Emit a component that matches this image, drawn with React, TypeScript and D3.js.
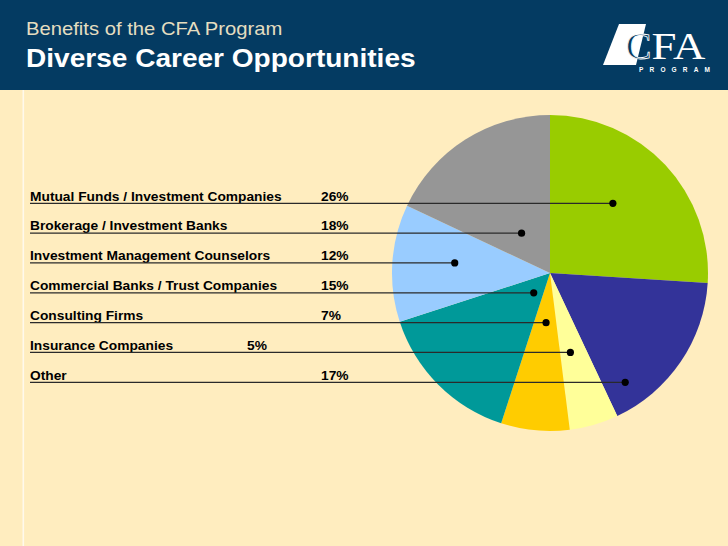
import React from "react";
import * as d3 from "d3";

const categories = [
  "Mutual Funds / Investment Companies",
  "Brokerage / Investment Banks",
  "Investment Management Counselors",
  "Commercial Banks / Trust Companies",
  "Consulting Firms",
  "Insurance Companies",
  "Other",
];
const values = [26, 18, 12, 15, 7, 5, 17];
const colors = ["#99CC00", "#969696", "#99CCFF", "#009999", "#FFCC00", "#FFFF99", "#333399"];
// clockwise order of slices from 12 o'clock (indices into categories)
const sliceOrder = [0, 6, 5, 4, 3, 2, 1];
// where each leader line ends, as horizontal offset from pie centre in units of radius
const leaderEnds = [0.398, -0.18, -0.603, -0.103, -0.025, 0.129, 0.476];
// label column for the percentage (0 = normal column, 1 = shifted left)
const pctShift = [0, 0, 0, 0, 0, 1, 0];

const W = 728;
const H = 546;
const HEADER = "#043B62";
const BG = "#FFEDBF";

function SText(props: { x: number; y: number; sx: number; children: React.ReactNode; [k: string]: any }) {
  const { x, y, sx, children, ...rest } = props;
  return (
    <text transform={`translate(${x},${y}) scale(${sx},1)`} {...rest}>
      {children}
    </text>
  );
}

export default function App() {
  const cx = 550;
  const cy = 273;
  const r = 158;

  const ordered = sliceOrder.map((i) => ({ i, v: values[i] }));
  const pie = d3
    .pie<{ i: number; v: number }>()
    .sort(null)
    .value((d) => d.v)
    .startAngle(0)
    .endAngle(2 * Math.PI);
  const arcs = pie(ordered);
  const arc = d3.arc<d3.PieArcDatum<{ i: number; v: number }>>().innerRadius(0).outerRadius(r);

  const rowY = d3.scaleLinear().domain([0, categories.length - 1]).range([203.3, 382.3]);
  const font = "'Liberation Sans', Arial, Helvetica, sans-serif";
  const serif = "'Liberation Serif', 'Times New Roman', serif";

  return (
    <svg width={W} height={H} style={{ position: "absolute", left: 0, top: 0 }} fontFamily={font}>
      <rect x={0} y={0} width={W} height={H} fill={BG} />
      <rect x={0} y={0} width={W} height={90} fill={HEADER} />
      <line x1={23.3} y1={90} x2={23.3} y2={H} stroke="#FFF9EC" strokeWidth={1.6} />
      <SText x={26} y={35} sx={1.125} fontSize={18} fill="#E4DEC0">Benefits of the CFA Program</SText>
      <SText x={26} y={67} sx={1.1} fontSize={25.5} fontWeight="bold" fill="#FFFFFF">Diverse Career Opportunities</SText>

      {/* CFA logo */}
      <g>
        <polygon points="619,24 646,24 636,65 603,65" fill="#FFFFFF" />
        <text x={626} y={58.5} fontFamily={serif} fontSize={38} fill={HEADER} stroke="#FFFFFF" strokeWidth={0.8}>C</text>
        <text x={651.5} y={58.5} fontFamily={serif} fontSize={38} fill="#FFFFFF" textLength={54} lengthAdjust="spacingAndGlyphs">FA</text>
        <text x={639} y={72} fontSize={6.5} fontWeight="bold" fill="#FFFFFF" textLength={71} lengthAdjust="spacing">PROGRAM</text>
      </g>

      {/* pie */}
      <g transform={`translate(${cx},${cy})`}>
        {arcs.map((a) => (
          <path key={a.data.i} d={arc(a) || ""} fill={colors[a.data.i]} />
        ))}
      </g>

      {/* legend rows with leader lines */}
      {categories.map((c, i) => {
        const y = rowY(i);
        const ex = cx + leaderEnds[i] * r;
        return (
          <g key={c}>
            <SText x={30} y={y - 2.7} sx={1.13} fontSize={12.2} fontWeight="bold" fill="#000000">{c}</SText>
            <SText x={pctShift[i] ? 247 : 321} y={y - 2.7} sx={1.13} fontSize={12.2} fontWeight="bold" fill="#000000">{values[i]}%</SText>
            <line x1={30} y1={y} x2={ex} y2={y} stroke="#2A2A2A" strokeWidth={1.2} />
            <circle cx={ex} cy={y} r={3.6} fill="#000000" />
          </g>
        );
      })}
    </svg>
  );
}
